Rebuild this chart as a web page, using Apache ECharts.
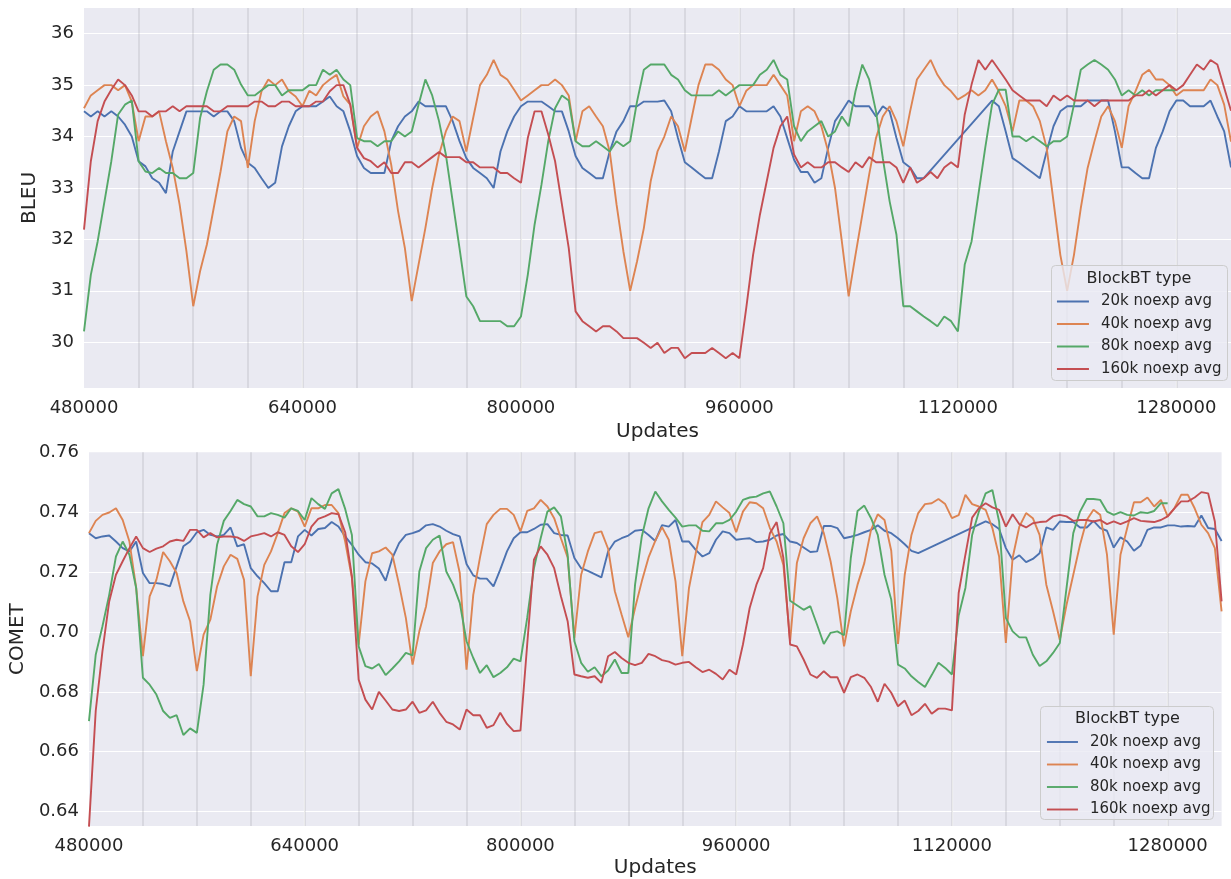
<!DOCTYPE html>
<html><head><meta charset="utf-8">
<script src="https://cdn.jsdelivr.net/npm/echarts@6/dist/echarts.min.js"></script>
<style>html,body{margin:0;padding:0;background:#fff}#chart{width:1231px;height:879px}</style>
</head><body><div id="chart"></div>
<script>
// ---- data ----
const seriesNames = ['20k noexp avg', '40k noexp avg', '80k noexp avg', '160k noexp avg'];
const legendTitle = 'BlockBT type';
const firstUpdate = 480000;   // first checkpoint
const updateStep = 5000;      // checkpoints every 5000 updates
const xTickLabels = [480000, 640000, 800000, 960000, 1120000, 1280000];
const bleuTicks = [30, 31, 32, 33, 34, 35, 36];
const cometTicks = [0.64, 0.66, 0.68, 0.70, 0.72, 0.74, 0.76];

const bleu20 = [
34.49,34.39,34.49,34.39,34.49,34.39,34.23,34.0,33.52,33.42,
33.19,33.10,32.90,33.71,34.10,34.49,34.49,34.49,34.49,34.39,
34.49,34.49,34.30,33.78,33.49,33.39,33.19,33.0,33.10,33.81,
34.20,34.49,34.59,34.59,34.59,34.68,34.78,34.59,34.49,34.10,
33.62,33.39,33.29,33.29,33.29,33.91,34.20,34.39,34.49,34.68,
34.59,34.59,34.59,34.59,34.30,33.91,33.58,33.39,33.29,33.19,
33.0,33.71,34.10,34.39,34.59,34.68,34.68,34.68,34.59,34.49,
34.49,34.10,33.62,33.39,33.29,33.19,33.19,33.71,34.10,34.30,
34.59,34.59,34.68,34.68,34.68,34.70,34.49,33.97,33.50,33.40,
33.29,33.19,33.19,33.71,34.30,34.39,34.59,34.49,34.49,34.49,
34.49,34.59,34.39,33.97,33.55,33.31,33.31,33.10,33.19,33.78,
34.30,34.49,34.70,34.59,34.59,34.59,34.39,34.59,34.49,33.97,
33.50,33.40,33.19,33.19,null,null,null,null,null,null,
null,null,null,34.70,34.59,34.10,33.58,33.49,33.39,33.29,
33.19,33.71,34.20,34.49,34.59,34.59,34.59,34.70,34.70,34.70,
34.70,34.10,33.40,33.40,33.29,33.19,33.19,33.78,34.10,34.49,
34.70,34.70,34.59,34.59,34.59,34.70,34.39,34.10,33.40];
const bleu40 = [
34.55,34.80,34.90,35.0,35.0,34.90,35.0,34.68,33.91,34.39,
34.39,34.49,33.91,33.39,32.68,31.77,30.70,31.38,31.90,32.61,
33.32,34.10,34.39,34.30,33.39,34.30,34.88,35.11,35.0,35.11,
34.88,34.78,34.59,34.89,34.80,35.0,35.11,35.20,34.78,34.62,
33.78,34.20,34.39,34.49,34.10,33.45,32.55,31.83,30.80,31.51,
32.22,33.0,33.65,34.10,34.39,34.30,33.71,34.36,35.0,35.20,
35.49,35.20,35.11,34.91,34.70,34.80,34.90,35.0,35.0,35.11,
35.0,34.80,33.91,34.49,34.59,34.39,34.20,33.71,32.68,31.77,
31.0,31.57,32.22,33.13,33.71,34.0,34.39,34.20,33.71,34.36,
35.0,35.40,35.40,35.30,35.11,35.0,34.59,34.89,35.0,35.0,
35.0,35.20,35.0,34.80,33.91,34.49,34.59,34.49,34.20,33.71,
33.0,31.96,30.89,31.70,32.48,33.26,33.97,34.39,34.59,34.30,
33.81,34.49,35.11,35.30,35.49,35.20,35.0,34.88,34.72,34.80,
34.90,34.80,34.90,35.11,34.88,34.59,34.10,34.70,34.70,34.59,
34.30,33.78,32.74,31.70,31.0,31.70,32.61,33.39,33.91,34.39,
34.59,34.30,33.78,34.59,34.88,35.20,35.30,35.11,35.11,35.0,
34.80,34.90,34.90,34.90,34.90,35.11,35.0,34.62,33.90];
const bleu80 = [
30.21,31.31,31.96,32.74,33.52,34.43,34.62,34.70,33.52,33.32,
33.29,33.39,33.29,33.29,33.19,33.19,33.29,34.36,34.88,35.30,
35.40,35.40,35.30,35.01,34.80,34.80,34.90,35.0,35.0,34.80,
34.90,34.90,34.90,35.0,35.0,35.30,35.20,35.30,35.11,35.0,
33.97,33.91,33.91,33.81,33.91,33.91,34.10,34.0,34.10,34.62,
35.11,34.80,34.30,33.65,32.74,31.83,30.89,30.70,30.41,30.41,
30.41,30.41,30.31,30.31,30.50,31.31,32.29,33.06,33.91,34.55,
34.80,34.70,33.91,33.81,33.81,33.91,33.81,33.71,33.91,33.81,
33.91,34.68,35.30,35.40,35.40,35.40,35.20,35.11,34.90,34.80,
34.80,34.80,34.80,34.90,34.80,34.90,35.0,35.0,35.0,35.20,
35.30,35.49,35.20,35.11,34.20,33.91,34.10,34.20,34.30,34.0,
34.10,34.39,34.20,34.88,35.40,35.11,34.49,33.58,32.74,32.09,
30.70,30.70,30.60,30.50,30.41,30.31,30.50,30.41,30.21,31.51,
31.96,32.87,33.78,34.62,34.91,34.91,34.0,34.0,33.91,34.0,
33.91,33.81,33.91,33.91,34.0,34.62,35.30,35.40,35.49,35.40,
35.30,35.11,34.80,34.90,34.80,34.90,34.80,34.90,34.90,34.90,
34.90];
const bleu160 = [
32.19,33.52,34.30,34.68,34.91,35.11,35.0,34.80,34.49,34.49,
34.39,34.49,34.49,34.59,34.49,34.59,34.59,34.59,34.59,34.49,
34.49,34.59,34.59,34.59,34.59,34.68,34.68,34.59,34.59,34.68,
34.68,34.59,34.59,34.59,34.68,34.68,34.88,35.0,35.0,34.62,
33.78,33.58,33.52,33.40,33.50,33.29,33.29,33.50,33.50,33.40,
33.50,33.60,33.70,33.60,33.60,33.60,33.50,33.50,33.40,33.40,
33.40,33.29,33.29,33.19,33.10,33.97,34.49,34.49,34.04,33.52,
32.68,31.83,30.60,30.41,30.31,30.21,30.31,30.31,30.21,30.08,
30.08,30.08,29.99,29.89,29.99,29.79,29.89,29.89,29.69,29.79,
29.79,29.79,29.89,29.79,29.69,29.79,29.69,30.67,31.70,32.48,
33.13,33.78,34.20,34.39,33.65,33.40,33.50,33.40,33.40,33.50,
33.50,33.40,33.31,33.50,33.40,33.60,33.50,33.50,33.50,33.40,
33.10,33.40,33.10,33.19,33.31,33.19,33.40,33.50,33.40,34.43,
35.01,35.49,35.30,35.49,35.30,35.11,34.90,34.80,34.70,34.70,
34.70,34.59,34.80,34.70,34.80,34.70,34.70,34.70,34.59,34.70,
34.70,34.70,34.70,34.70,34.80,34.80,34.90,34.80,34.90,35.0,
34.90,35.0,35.20,35.40,35.30,35.49,35.40,34.95,34.50];

const comet20 = [
0.7330,0.7313,0.7319,0.7322,0.7302,0.7280,0.7269,0.7302,0.7197,0.7163,
0.7163,0.7160,0.7152,0.7219,0.7286,0.7302,0.7333,0.7341,0.7324,0.7319,
0.7324,0.7349,0.7286,0.7293,0.7213,0.7186,0.7163,0.7136,0.7136,0.7233,
0.7233,0.7319,0.7341,0.7322,0.7344,0.7347,0.7367,0.7352,0.7319,0.7291,
0.7258,0.7233,0.7229,0.7212,0.7171,0.7247,0.7297,0.7324,0.7330,0.7338,
0.7356,0.7360,0.7352,0.7338,0.7327,0.7319,0.7227,0.7189,0.7178,0.7178,
0.7152,0.7208,0.7269,0.7313,0.7333,0.7333,0.7344,0.7358,0.7360,0.7330,
0.7324,0.7322,0.7247,0.7213,0.7204,0.7193,0.7182,0.7269,0.7302,0.7313,
0.7322,0.7338,0.7341,0.7324,0.7304,0.7357,0.7352,0.7374,0.7302,0.7302,
0.7274,0.7252,0.7263,0.7308,0.7336,0.7330,0.7308,0.7311,0.7313,0.7300,
0.7302,0.7308,0.7322,0.7327,0.7302,0.7297,0.7282,0.7267,0.7269,0.7354,
0.7354,0.7347,0.7313,0.7318,0.7324,0.7333,0.7341,0.7356,0.7338,0.7330,
0.7313,0.7293,0.7271,0.7263,null,null,null,null,null,null,
null,null,null,0.7369,0.7360,0.7344,0.7280,0.7241,0.7256,0.7233,
0.7244,0.7263,0.7349,0.7341,0.7369,0.7367,0.7367,0.7349,0.7349,0.7371,
0.7347,0.7338,0.7282,0.7316,0.7302,0.7271,0.7289,0.7341,0.7349,0.7349,
0.7356,0.7356,0.7352,0.7354,0.7352,0.7389,0.7347,0.7344,0.7304];
const comet40 = [
0.7330,0.7371,0.7391,0.7399,0.7413,0.7374,0.7302,0.7147,0.6919,0.7119,
0.7174,0.7267,0.7236,0.7197,0.7102,0.7036,0.6869,0.6991,0.7041,0.7152,
0.7219,0.7258,0.7244,0.7174,0.6852,0.7119,0.7224,0.7269,0.7330,0.7397,
0.7413,0.7402,0.7352,0.7413,0.7413,0.7424,0.7424,0.7397,0.7302,0.7180,
0.6958,0.7169,0.7263,0.7269,0.7282,0.7258,0.7158,0.7047,0.6891,0.7002,
0.7086,0.7230,0.7269,0.7293,0.7300,0.7197,0.6874,0.7124,0.7249,0.7360,
0.7391,0.7411,0.7411,0.7391,0.7336,0.7404,0.7413,0.7441,0.7419,0.7380,
0.7313,0.7249,0.6980,0.7191,0.7269,0.7330,0.7336,0.7278,0.7136,0.7058,
0.6982,0.7080,0.7169,0.7249,0.7304,0.7350,0.7308,0.7169,0.6919,0.7147,
0.7263,0.7367,0.7391,0.7436,0.7416,0.7397,0.7333,0.7402,0.7433,0.7430,
0.7413,0.7347,0.7302,0.7224,0.6969,0.7230,0.7313,0.7363,0.7386,0.7330,
0.7236,0.7113,0.6952,0.7069,0.7158,0.7230,0.7341,0.7393,0.7374,0.7271,
0.6960,0.7191,0.7324,0.7397,0.7427,0.7430,0.7444,0.7427,0.7380,0.7390,
0.7458,0.7427,0.7419,0.7408,0.7347,0.7252,0.6963,0.7247,0.7352,0.7397,
0.7380,0.7324,0.7158,0.7069,0.6974,0.7091,0.7191,0.7291,0.7374,0.7408,
0.7391,0.7258,0.6991,0.7258,0.7347,0.7433,0.7433,0.7449,0.7419,0.7441,
0.7386,0.7413,0.7458,0.7458,0.7413,0.7358,0.7330,0.7280,0.7069];
const comet80 = [
0.6702,0.6924,0.7019,0.7124,0.7252,0.7302,0.7258,0.7147,0.6847,0.6824,
0.6791,0.6736,0.6713,0.6722,0.6656,0.6678,0.6663,0.6824,0.7124,0.7291,
0.7371,0.7404,0.7441,0.7427,0.7419,0.7386,0.7386,0.7397,0.7391,0.7382,
0.7413,0.7404,0.7374,0.7447,0.7427,0.7411,0.7463,0.7477,0.7411,0.7324,
0.6952,0.6886,0.6878,0.6893,0.6856,0.6878,0.6902,0.6930,0.6922,0.7202,
0.7280,0.7308,0.7322,0.7202,0.7158,0.7097,0.6969,0.6913,0.6863,0.6889,
0.6849,0.6863,0.6882,0.6911,0.6902,0.7047,0.7213,0.7313,0.7402,0.7416,
0.7386,0.7258,0.6969,0.6897,0.6867,0.6882,0.6852,0.6871,0.6908,0.6863,
0.6863,0.7158,0.7319,0.7413,0.7469,0.7436,0.7408,0.7382,0.7352,0.7356,
0.7356,0.7338,0.7336,0.7363,0.7363,0.7374,0.7402,0.7441,0.7449,0.7452,
0.7463,0.7469,0.7419,0.7363,0.7104,0.7089,0.7074,0.7086,0.7024,0.6960,
0.6997,0.7002,0.6989,0.7247,0.7404,0.7422,0.7380,0.7324,0.7191,0.7108,
0.6891,0.6878,0.6852,0.6833,0.6816,0.6856,0.6897,0.6880,0.6858,0.7055,
0.7147,0.7324,0.7402,0.7463,0.7474,0.7369,0.7047,0.7002,0.6982,0.6982,
0.6924,0.6886,0.6902,0.6930,0.6963,0.7147,0.7330,0.7402,0.7444,0.7444,
0.7441,0.7402,0.7391,0.7400,0.7391,0.7389,0.7400,0.7397,0.7404,0.7430,
0.7430];
const comet160 = [
0.6350,0.6736,0.6936,0.7102,0.7191,0.7236,0.7280,0.7319,0.7280,0.7267,
0.7278,0.7286,0.7302,0.7308,0.7304,0.7341,0.7341,0.7316,0.7330,0.7316,
0.7319,0.7319,0.7316,0.7304,0.7319,0.7324,0.7330,0.7319,0.7333,0.7324,
0.7286,0.7267,0.7293,0.7352,0.7378,0.7386,0.7397,0.7393,0.7333,0.7186,
0.6841,0.6774,0.6741,0.6800,0.6771,0.6741,0.6736,0.6741,0.6767,0.6730,
0.6738,0.6767,0.6730,0.6700,0.6691,0.6674,0.6741,0.6722,0.6722,0.6680,
0.6689,0.6730,0.6693,0.6669,0.6671,0.6958,0.7241,0.7286,0.7258,0.7213,
0.7119,0.7036,0.6858,0.6852,0.6847,0.6852,0.6830,0.6919,0.6933,0.6913,
0.6897,0.6889,0.6897,0.6927,0.6919,0.6906,0.6901,0.6891,0.6897,0.6900,
0.6882,0.6866,0.6874,0.6860,0.6841,0.6874,0.6858,0.6958,0.7080,0.7158,
0.7213,0.7330,0.7367,0.7247,0.6958,0.6952,0.6908,0.6858,0.6847,0.6869,
0.6849,0.6849,0.6797,0.6849,0.6858,0.6847,0.6816,0.6767,0.6827,0.6797,
0.6752,0.6771,0.6722,0.6736,0.6760,0.6727,0.6744,0.6744,0.6738,0.7130,
0.7258,0.7382,0.7413,0.7430,0.7416,0.7408,0.7352,0.7393,0.7360,0.7349,
0.7363,0.7367,0.7369,0.7386,0.7391,0.7386,0.7371,0.7374,0.7374,0.7369,
0.7374,0.7360,0.7369,0.7360,0.7369,0.7380,0.7371,0.7369,0.7367,0.7374,
0.7386,0.7413,0.7436,0.7436,0.7449,0.7467,0.7463,0.7369,0.7102];

// ---- styling ----
const colors = ['#4C72B0', '#DD8452', '#55A868', '#C44E52'];
const FONT = 'DejaVu Sans';
const TXT = '#262626';
const BG = '#EAEAF2';

const toPairs = arr => arr.map((v, i) => [firstUpdate + i * updateStep, v]);

function mainX(gridIndex, nameGap) {
  return {
    type: 'value', gridIndex, min: 480000, max: 1320000, interval: 160000,
    axisLine: {show: false}, axisTick: {show: false},
    axisLabel: {color: TXT, fontFamily: FONT, fontSize: 18, margin: 11,
      showMaxLabel: false,
      formatter: v => xTickLabels.includes(v) ? String(v) : ''},
    splitLine: {show: true, showMinLine: false, showMaxLine: false,
      lineStyle: {color: '#ffffff', width: 1.2}},
    name: 'Updates', nameLocation: 'middle', nameGap,
    nameTextStyle: {color: TXT, fontFamily: FONT, fontSize: 20}
  };
}
function blockX(gridIndex) {
  return {
    type: 'value', gridIndex, min: 480000, max: 1320000, interval: 40000,
    axisLine: {show: false}, axisTick: {show: false}, axisLabel: {show: false},
    splitLine: {show: true, showMinLine: false, showMaxLine: false,
      lineStyle: {color: 'rgba(120,120,130,0.2)', width: 1.6}}
  };
}

const lineSeries = (name, data, idx, axis) => ({
  type: 'line', name, data: toPairs(data),
  xAxisIndex: axis, yAxisIndex: axis === 0 ? 0 : 1,
  showSymbol: false, symbol: 'none', connectNulls: true,
  lineStyle: {color: colors[idx], width: 1.9},
  itemStyle: {color: colors[idx]},
  emphasis: {disabled: true}, silent: true
});

const topSets = [bleu20, bleu40, bleu80, bleu160];
const botSets = [comet20, comet40, comet80, comet160];
const series = [];
topSets.forEach((d, k) => series.push(lineSeries(seriesNames[k], d, k, 0)));
botSets.forEach((d, k) => series.push(lineSeries(seriesNames[k], d, k, 2)));

const legendCommon = {
  orient: 'vertical', padding: 0, itemGap: 7.5, itemHeight: 14, z: 70,
  data: seriesNames, selectedMode: false,
  itemStyle: {opacity: 0},
  lineStyle: {width: 1.9},
  textStyle: {color: TXT, fontFamily: FONT, fontSize: 15, padding: [0, 0, 0, 7]}
};

const option = {
  animation: false,
  backgroundColor: '#ffffff',
  grid: [
    {left: 84, top: 8, width: 1151, height: 380, show: true, backgroundColor: BG, borderWidth: 0, containLabel: false},
    {left: 86.6, top: 452.3, width: 1135, height: 374.4, show: true, backgroundColor: BG, borderWidth: 0, containLabel: false}
  ],
  xAxis: [mainX(0, 34), blockX(0), mainX(1, 32), blockX(1)],
  yAxis: [
    {type: 'value', gridIndex: 0, min: 29.11, max: 36.5, splitNumber: 7,
     axisLine: {show: false}, axisTick: {show: false},
     axisLabel: {color: TXT, fontFamily: FONT, fontSize: 18, margin: 10,
       showMinLabel: false, showMaxLabel: false,
       formatter: v => bleuTicks.includes(v) ? String(v) : ''},
     splitLine: {show: true, showMinLine: false, showMaxLine: false, lineStyle: {color: '#ffffff', width: 1.2}},
     name: 'BLEU', nameLocation: 'middle', nameGap: 39,
     nameTextStyle: {color: TXT, fontFamily: FONT, fontSize: 20}},
    {type: 'value', gridIndex: 1, min: 0.6352, max: 0.76, splitNumber: 6,
     axisLine: {show: false}, axisTick: {show: false},
     axisLabel: {color: TXT, fontFamily: FONT, fontSize: 18, margin: 10,
       showMinLabel: false, showMaxLabel: true,
       formatter: v => { const t = cometTicks.find(c => Math.abs(c - v) < 1e-6); return t === undefined ? '' : t.toFixed(2); }},
     splitLine: {show: true, showMinLine: false, showMaxLine: false, lineStyle: {color: '#ffffff', width: 1.2}},
     name: 'COMET', nameLocation: 'middle', nameGap: 56,
     nameTextStyle: {color: TXT, fontFamily: FONT, fontSize: 20}}
  ],
  legend: [
    Object.assign({left: 1056, top: 294, itemWidth: 32}, legendCommon),
    Object.assign({left: 1046, top: 734.5, itemWidth: 31}, legendCommon)
  ],
  graphic: [
    {type: 'rect', z: 50, shape: {x: 1051.5, y: 265.5, width: 176, height: 115, r: 4},
     style: {fill: 'rgba(234,234,242,0.8)', stroke: '#cccccc', lineWidth: 1}},
    {type: 'text', z: 60, x: 1139, y: 279,
     style: {text: legendTitle, fontFamily: FONT, fontSize: 16, fill: TXT, align: 'center', verticalAlign: 'middle'}},
    {type: 'rect', z: 50, shape: {x: 1040.5, y: 706.5, width: 173, height: 113, r: 4},
     style: {fill: 'rgba(234,234,242,0.8)', stroke: '#cccccc', lineWidth: 1}},
    {type: 'text', z: 60, x: 1127.5, y: 719,
     style: {text: legendTitle, fontFamily: FONT, fontSize: 16, fill: TXT, align: 'center', verticalAlign: 'middle'}}
  ],
  series
};

const chart = echarts.init(document.getElementById('chart'), null, {renderer: 'canvas'});
chart.setOption(option);
</script>
</body></html>
